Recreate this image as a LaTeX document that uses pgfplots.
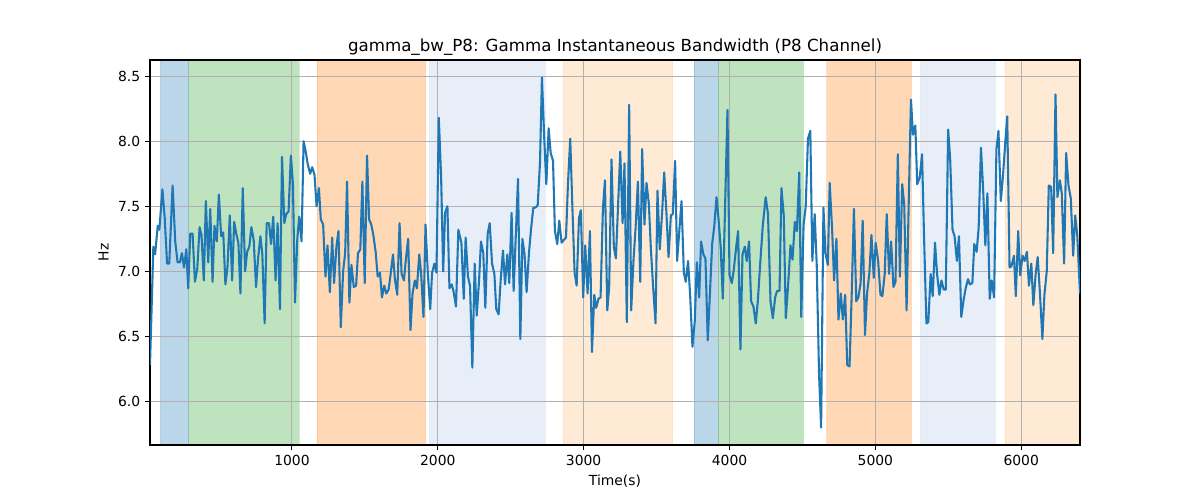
\documentclass[border=0pt]{standalone}
\usepackage{fontspec}
\setmainfont{DejaVu Sans}
\usepackage{pgfplots}
\pgfplotsset{compat=1.18}
\definecolor{c0}{HTML}{1F77B4}
\definecolor{c0l}{HTML}{AEC7E8}
\definecolor{c1}{HTML}{FF7F0E}
\definecolor{c1l}{HTML}{FFBB78}
\definecolor{c2}{HTML}{2CA02C}
\definecolor{gridgray}{HTML}{B0B0B0}
\pgfplotstableread{
x y
27 6.28
50 7.19
62 7.13
80 7.35
91 7.32
112 7.63
128 7.41
144 7.06
159 7.06
182 7.66
200 7.23
216 7.07
232 7.07
246 7.14
260 7.03
276 7.17
289 6.87
303 7.29
319 7.29
335 6.92
351 7.02
367 7.34
380 7.28
396 6.93
410 7.54
426 7.07
440 7.48
456 6.92
469 7.35
485 7.23
499 7.59
515 7.27
529 7.30
544 6.90
558 7.03
574 7.43
590 6.93
604 7.38
620 7.28
633 7.22
647 6.83
663 7.64
679 7.00
693 7.15
708 7.19
722 7.34
738 7.24
754 6.88
768 7.10
784 7.27
797 7.13
813 6.60
827 7.37
843 7.37
857 7.21
872 7.42
888 6.93
902 7.37
918 6.71
932 7.88
948 7.37
961 7.44
977 7.46
993 7.89
1007 7.67
1021 6.76
1037 7.25
1050 7.42
1066 7.23
1080 8.00
1096 7.91
1109 7.82
1125 7.75
1139 7.80
1155 7.74
1169 7.50
1185 7.64
1198 7.40
1214 7.36
1230 6.96
1244 7.20
1260 6.84
1276 7.26
1289 6.91
1305 7.19
1319 7.31
1335 6.57
1351 7.00
1365 7.14
1378 7.69
1394 6.76
1408 7.05
1424 6.88
1440 6.89
1453 7.14
1469 7.17
1483 7.69
1499 6.91
1515 7.89
1529 7.40
1544 7.36
1558 7.28
1574 7.15
1588 6.96
1604 6.99
1617 6.80
1633 6.89
1647 6.83
1663 6.86
1677 6.98
1693 7.13
1706 6.94
1722 6.82
1738 7.37
1752 6.98
1768 6.93
1781 7.09
1797 7.25
1813 6.55
1827 6.83
1843 6.93
1857 6.87
1873 7.13
1886 6.98
1902 6.65
1916 7.36
1932 6.98
1948 6.71
1961 6.99
1977 7.06
1991 6.99
2007 8.18
2023 7.72
2037 7.00
2050 7.45
2066 7.50
2080 6.87
2096 6.90
2109 6.84
2125 6.73
2141 7.32
2162 7.22
2178 6.79
2191 7.26
2207 6.96
2221 6.89
2237 6.26
2253 7.06
2267 6.66
2283 6.93
2296 7.23
2312 7.14
2326 6.72
2342 7.29
2356 7.37
2372 7.06
2388 6.98
2401 6.71
2417 6.67
2431 6.93
2447 7.16
2461 6.90
2477 7.13
2490 6.91
2506 7.45
2520 6.85
2550 7.71
2566 6.48
2580 7.25
2595 7.13
2609 6.84
2625 7.14
2639 7.32
2655 7.49
2671 7.49
2685 7.51
2701 7.84
2714 8.49
2730 8.02
2744 7.67
2760 8.10
2774 7.91
2790 7.85
2803 7.31
2819 7.21
2833 7.39
2849 7.22
2863 7.24
2879 7.26
2892 7.66
2908 8.02
2922 7.52
2938 6.99
2952 6.89
2968 7.41
2981 7.47
2997 6.80
3011 7.20
3027 6.83
3043 7.31
3057 6.38
3073 6.82
3086 6.72
3102 6.79
3116 6.80
3132 7.48
3146 7.70
3162 6.70
3175 6.88
3191 7.86
3207 7.19
3221 7.10
3237 7.53
3251 7.92
3267 7.37
3280 7.83
3296 6.61
3312 8.28
3326 6.70
3342 7.09
3356 7.33
3372 7.69
3388 6.92
3401 7.94
3417 7.36
3431 7.68
3447 7.52
3461 7.17
3477 6.87
3493 6.60
3506 7.62
3522 7.17
3538 7.45
3552 7.76
3568 7.44
3582 7.11
3598 7.43
3611 7.44
3627 7.85
3641 7.08
3657 7.33
3671 7.54
3687 6.99
3700 6.92
3716 7.08
3730 6.82
3746 6.42
3762 6.62
3776 7.07
3792 6.80
3805 7.23
3821 7.13
3835 7.10
3851 6.47
3865 6.81
3881 7.21
3895 7.34
3911 7.57
3924 7.41
3940 7.18
3954 6.79
3970 7.51
3986 8.24
4000 6.97
4016 6.91
4029 7.01
4045 7.18
4059 7.31
4075 6.40
4089 7.13
4105 7.19
4118 7.08
4134 7.23
4148 6.77
4164 6.73
4180 6.60
4194 6.77
4210 7.05
4228 7.35
4248 7.57
4264 7.44
4281 6.77
4297 6.64
4313 6.80
4326 6.85
4343 6.85
4356 7.64
4372 7.43
4386 6.64
4402 6.90
4418 7.20
4432 7.09
4448 7.38
4462 7.31
4478 7.76
4492 6.65
4508 7.36
4522 7.49
4538 8.02
4554 8.08
4568 7.08
4584 7.44
4598 7.05
4614 6.21
4628 5.80
4644 7.49
4658 7.14
4674 7.05
4687 7.68
4704 7.31
4717 6.93
4733 7.25
4747 6.63
4763 6.83
4777 6.63
4793 6.82
4807 6.28
4823 6.27
4839 6.87
4853 7.48
4869 6.77
4883 6.80
4899 6.91
4913 7.39
4929 6.51
4943 6.83
4959 6.99
4973 7.28
4989 6.95
5002 7.22
5019 7.08
5035 6.82
5048 6.81
5064 6.98
5078 7.44
5094 6.98
5108 7.23
5124 6.88
5138 6.92
5154 7.90
5168 6.96
5184 7.67
5198 7.51
5214 6.70
5228 7.49
5244 8.32
5258 8.05
5274 8.12
5287 7.67
5304 7.72
5320 7.90
5333 7.30
5350 6.60
5363 6.61
5379 6.98
5393 6.81
5409 7.22
5423 6.98
5439 6.82
5453 6.93
5469 6.86
5483 6.86
5499 8.09
5513 7.86
5529 7.32
5543 7.27
5559 7.08
5573 7.27
5589 6.65
5605 6.78
5619 6.87
5635 6.94
5648 6.90
5665 6.91
5678 7.21
5694 7.15
5708 7.33
5724 7.95
5738 7.65
5754 7.20
5768 7.60
5784 6.79
5798 6.93
5814 6.80
5830 7.94
5844 8.08
5860 7.54
5874 7.72
5890 7.98
5904 8.19
5920 7.03
5933 7.04
5950 7.12
5963 6.81
5979 7.31
5993 6.97
6009 7.12
6023 7.08
6039 7.15
6053 6.89
6069 7.06
6083 6.74
6099 6.98
6113 7.11
6129 6.82
6145 6.48
6159 6.82
6175 7.00
6189 7.66
6205 7.65
6219 7.14
6235 8.36
6248 7.57
6265 7.70
6278 7.60
6294 7.06
6308 7.91
6324 7.66
6340 7.56
6356 7.12
6370 7.43
6384 7.28
6403 6.83
}\bwdata
\begin{document}
\begin{tikzpicture}
\path (-108pt,-39.6pt) rectangle (756pt,320.4pt);
\begin{axis}[
  set layers,
  scale only axis,
  width=669.6pt, height=277.2pt,
  xmin=27, xmax=6403, ymin=5.666, ymax=8.624,
  xtick={1000,2000,3000,4000,5000,6000},
  ytick={6.0,6.5,7.0,7.5,8.0,8.5},
  /pgf/number format/assume math mode=true,
  x tick label style={/pgf/number format/.cd, set thousands separator={}},
  y tick label style={/pgf/number format/.cd, fixed, fixed zerofill, precision=1},
  tick label style={font=\fontsize{10}{12}\selectfont},
  label style={font=\fontsize{10}{12}\selectfont},
  title style={font=\fontsize{12}{14}\selectfont, yshift=-6pt},
  title={gamma\_bw\_P8: Gamma Instantaneous Bandwidth (P8 Channel)},
  xlabel={Time(s)}, ylabel={Hz},
  grid=major,
  grid style={line width=0.8pt, color=gridgray},
  axis line style={line width=0.8pt},
  tick style={line width=0.8pt, color=black},
  major tick length=3.5pt,
  tick align=outside,
  xtick pos=bottom, ytick pos=left,
  band/.style={on layer=axis background, fill=#1, fill opacity=0.3, draw=#1, draw opacity=0.2, line width=0.5pt},
]
\addplot[band=c0] coordinates {(98,5.666) (98,8.624) (291,8.624) (291,5.666) (98,5.666)};
\addplot[band=c2] coordinates {(291,5.666) (291,8.624) (1048,8.624) (1048,5.666) (291,5.666)};
\addplot[band=c1] coordinates {(1171,5.666) (1171,8.624) (1916,8.624) (1916,5.666) (1171,5.666)};
\addplot[band=c0l] coordinates {(1943,5.666) (1943,8.624) (2737,8.624) (2737,5.666) (1943,5.666)};
\addplot[band=c1l] coordinates {(2860,5.666) (2860,8.624) (3611,8.624) (3611,5.666) (2860,5.666)};
\addplot[band=c0] coordinates {(3757,5.666) (3757,8.624) (3924,8.624) (3924,5.666) (3757,5.666)};
\addplot[band=c2] coordinates {(3924,5.666) (3924,8.624) (4506,8.624) (4506,5.666) (3924,5.666)};
\addplot[band=c1] coordinates {(4667,5.666) (4667,8.624) (5246,8.624) (5246,5.666) (4667,5.666)};
\addplot[band=c0l] coordinates {(5308,5.666) (5308,8.624) (5823,8.624) (5823,5.666) (5308,5.666)};
\addplot[band=c1l] coordinates {(5888,5.666) (5888,8.624) (6403,8.624) (6403,5.666) (5888,5.666)};
\addplot[c0, line width=1.5pt, line join=round, mark=none] table[x=x, y=y] {\bwdata};
\end{axis}
\end{tikzpicture}
\end{document}
